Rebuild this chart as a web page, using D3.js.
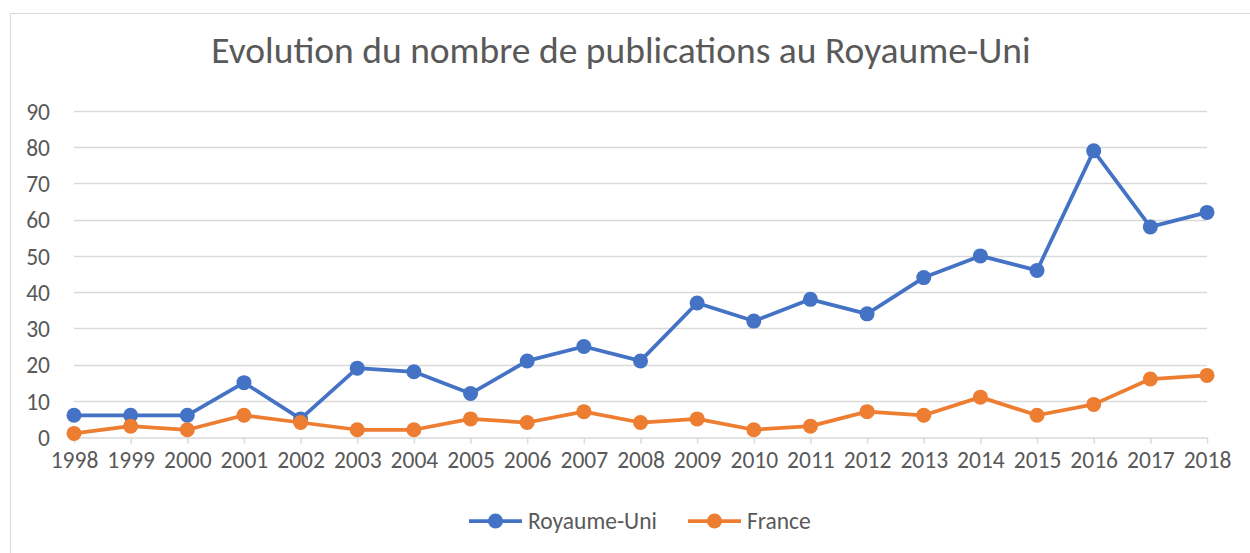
<!DOCTYPE html>
<html>
<head>
<meta charset="utf-8">
<script src="https://cdn.jsdelivr.net/npm/d3@7"></script>
<style>
  body { margin: 0; background: #fff; }
  #chart { width: 1250px; height: 553px; }
  text { font-family: Carlito, "Open Sans", "Noto Sans", sans-serif; fill: #595959; }
</style>
</head>
<body>
<div id="chart"></div>
<script>
// Data
const years = ['1998', '1999', '2000', '2001', '2002', '2003', '2004', '2005', '2006', '2007',
  '2008', '2009', '2010', '2011', '2012', '2013', '2014', '2015', '2016', '2017', '2018'];
const royaumeUni = [6, 6, 6, 15, 5, 19, 18, 12, 21, 25, 21, 37, 32, 38, 34, 44, 50, 46, 79, 58, 62];
const france = [1, 3, 2, 6, 4, 2, 2, 5, 4, 7, 4, 5, 2, 3, 7, 6, 11, 6, 9, 16, 17];
const yTicks = [0, 10, 20, 30, 40, 50, 60, 70, 80, 90];

const series = [
  { name: 'Royaume-Uni', values: royaumeUni, color: '#4472C4' },
  { name: 'France', values: france, color: '#ED7D31' }
];

const W = 1250, H = 553;
const margin = { left: 74, right: 43, top: 111, bottom: 116 };

const svg = d3.select('#chart').append('svg')
  .attr('width', W)
  .attr('height', H);

// Chart area border
svg.append('rect')
  .attr('x', 10.5).attr('y', 13.5)
  .attr('width', W + 10).attr('height', H + 10)
  .attr('fill', '#fff')
  .attr('stroke', '#d9d9d9');

// Title
svg.append('text')
  .attr('x', 621).attr('y', 63)
  .attr('text-anchor', 'middle')
  .style('font-size', '37.5px')
  .text('Evolution du nombre de publications au Royaume-Uni');

const x = d3.scalePoint()
  .domain(years)
  .range([margin.left, W - margin.right]);

const y = d3.scaleLinear()
  .domain([0, 90])
  .range([H - margin.bottom, margin.top]);

// Gridlines
svg.append('g')
  .selectAll('line')
  .data(yTicks.filter(d => d > 0))
  .join('line')
  .attr('x1', margin.left).attr('x2', W - margin.right)
  .attr('y1', d => Math.round(y(d)) + 0.5).attr('y2', d => Math.round(y(d)) + 0.5)
  .attr('stroke', '#d9d9d9')
  .attr('stroke-width', 1.5);

// Y axis labels
const yAxis = d3.axisLeft(y)
  .tickValues(yTicks)
  .tickSize(0)
  .tickPadding(0);

const yg = svg.append('g')
  .attr('transform', `translate(${margin.left - 24},0)`)
  .call(yAxis);
yg.select('.domain').remove();
yg.selectAll('text')
  .style('font-size', '23.5px')
  .style('fill', '#595959')
  .attr('dy', '0.35em');

// X axis
const xAxis = d3.axisBottom(x)
  .tickSizeInner(6)
  .tickSizeOuter(0)
  .tickPadding(8);

const xg = svg.append('g')
  .attr('transform', `translate(0,${Math.round(y(0)) + 0.5})`)
  .call(xAxis);
xg.select('.domain')
  .attr('stroke', '#d9d9d9')
  .attr('stroke-width', 1.5);
xg.selectAll('.tick line')
  .attr('stroke', '#d9d9d9')
  .attr('stroke-width', 1.5);
xg.selectAll('text')
  .style('font-size', '23.5px')
  .style('fill', '#595959');

// Lines and markers
const line = d3.line()
  .x((d, i) => x(years[i]))
  .y(d => y(d));

series.forEach(s => {
  svg.append('path')
    .datum(s.values)
    .attr('fill', 'none')
    .attr('stroke', s.color)
    .attr('stroke-width', 3.75)
    .attr('stroke-linejoin', 'round')
    .attr('d', line);

  svg.append('g')
    .selectAll('circle')
    .data(s.values)
    .join('circle')
    .attr('cx', (d, i) => x(years[i]))
    .attr('cy', d => y(d))
    .attr('r', 7.5)
    .attr('fill', s.color);
});

// Legend
const legendX = [469, 688];
series.forEach((s, i) => {
  const g = svg.append('g')
    .attr('transform', `translate(${legendX[i]},521)`);
  g.append('line')
    .attr('x1', 0).attr('x2', 53)
    .attr('stroke', s.color)
    .attr('stroke-width', 3.75);
  g.append('circle')
    .attr('cx', 26.5)
    .attr('r', 7.5)
    .attr('fill', s.color);
  g.append('text')
    .attr('x', 59)
    .attr('dy', '0.35em')
    .style('font-size', '23.5px')
    .text(s.name);
});
</script>
</body>
</html>
